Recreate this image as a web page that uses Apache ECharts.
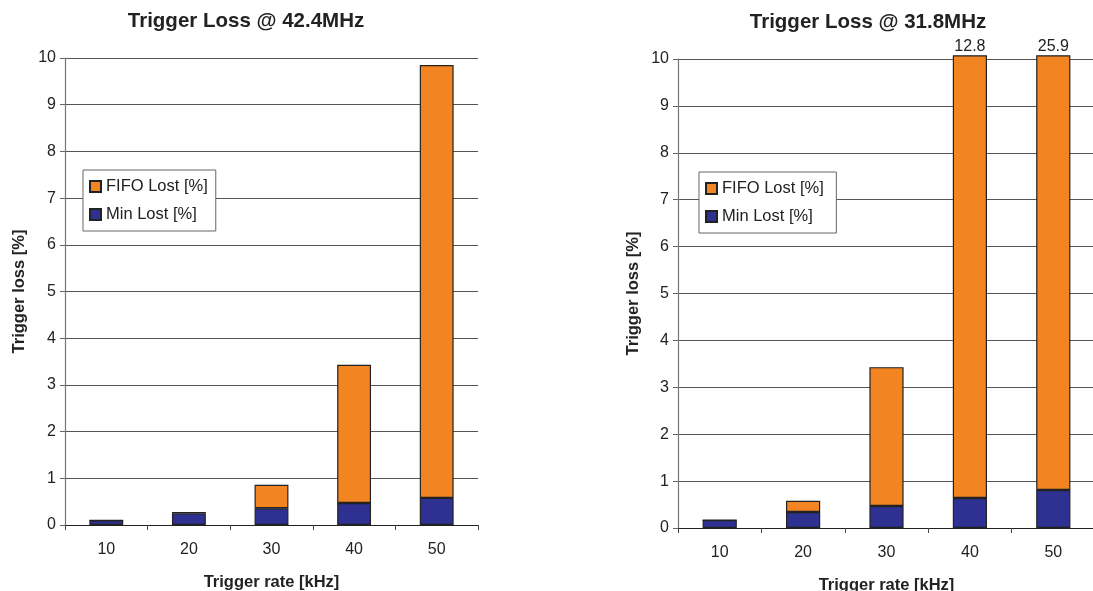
<!DOCTYPE html>
<html><head><meta charset="utf-8">
<script src="https://cdn.jsdelivr.net/npm/echarts@6/dist/echarts.min.js"></script>
<style>html,body{margin:0;padding:0;background:#fff}#c{width:1093px;height:591px}</style>
</head><body><div id="c"></div>
<script>
const categories = ['10', '20', '30', '40', '50'];
const minLost424 = [0.1, 0.25, 0.36, 0.47, 0.58];
const fifoLost424 = [0, 0.03, 0.5, 2.96, 9.27];
const minLost318 = [0.17, 0.34, 0.47, 0.64, 0.81];
const fifoLost318 = [0, 0.24, 2.96, 12.16, 25.09];
const totals318 = [0.17, 0.58, 3.43, 12.8, 25.9];
const titles = ['Trigger Loss @ 42.4MHz', 'Trigger Loss @ 31.8MHz'];
const yTicks = [0,1,2,3,4,5,6,7,8,9,10];

const AXMAX = 10;
const CAP = 10.08;
const FONT = 'Liberation Sans, Arial, sans-serif';
const ORANGE = '#F28522';
const BLUE = '#2E3192';

function capped(mins, fifos, totals) {
  return fifos.map((f, i) => {
    const t = totals ? totals[i] : mins[i] + f;
    const v = t > AXMAX ? CAP - mins[i] : f;
    return {
      value: v,
      label: { show: t > AXMAX, position: 'top', distance: 1, formatter: String(t),
               color: '#222', fontSize: 16, fontFamily: FONT }
    };
  });
}

const grids = [
  { left: 65, top: 58, width: 413, height: 467, outerBoundsMode: 'none', containLabel: false },
  { left: 678, top: 59, width: 417, height: 469, outerBoundsMode: 'none', containLabel: false }
];

const chart = echarts.init(document.getElementById('c'), null, { renderer: 'canvas' });
const xAxes = [], yAxes = [];
[0, 1].forEach(g => {
  xAxes.push({
    type: 'category', gridIndex: g, data: categories,
    name: 'Trigger rate [kHz]', nameLocation: 'middle', nameGap: 49,
    nameTextStyle: { fontFamily: FONT, fontSize: 16.5, fontWeight: 'bold', color: '#222' },
    axisLine: { lineStyle: { color: '#222', width: 1.2 } },
    axisTick: { show: true, length: 5, alignWithLabel: false, lineStyle: { color: '#444' } },
    axisLabel: { fontFamily: FONT, fontSize: 16, color: '#222', margin: 17 },
    splitLine: { show: false }
  });
  yAxes.push({
    type: 'value', gridIndex: g, min: 0, max: AXMAX, interval: 1,
    name: 'Trigger loss [%]', nameLocation: 'middle', nameGap: g === 0 ? 37 : 36, nameRotate: 90,
    nameTextStyle: { fontFamily: FONT, fontSize: 16.5, fontWeight: 'bold', color: '#222' },
    axisLine: { show: true, lineStyle: { color: '#777', width: 1.2 } },
    axisTick: { show: true, length: 5, lineStyle: { color: '#666' } },
    axisLabel: { fontFamily: FONT, fontSize: 16, color: '#222', margin: 9,
                 formatter: v => yTicks.includes(v) ? String(v) : '' },
    splitLine: { show: true, lineStyle: { color: '#555', width: 1 } }
  });
});

function barSeries(name, g, data, color, stack) {
  return {
    type: 'bar', name: name, xAxisIndex: g, yAxisIndex: g, stack: stack,
    data: data, barWidth: '41%', clip: false,
    itemStyle: { color: color, borderColor: '#222', borderWidth: 1.2 },
    emphasis: { disabled: true }, animation: false
  };
}

const legendBase = {
  orient: 'vertical', width: 133, itemWidth: 11, itemHeight: 11, itemGap: 11,
  padding: [8, 8, 8, 6], backgroundColor: '#fff', borderColor: '#666', borderWidth: 1,
  selectedMode: false, icon: 'rect',
  textStyle: { fontFamily: FONT, fontSize: 16.5, color: '#222' }
};

const option = {
  animation: false,
  title: [
    { text: titles[0], left: 241, top: 6, textAlign: 'center',
      textStyle: { fontFamily: FONT, fontSize: 20.5, fontWeight: 'bold', color: '#222' } },
    { text: titles[1], left: 863, top: 7, textAlign: 'center',
      textStyle: { fontFamily: FONT, fontSize: 20.5, fontWeight: 'bold', color: '#222' } }
  ],
  grid: grids,
  xAxis: xAxes,
  yAxis: yAxes,
  legend: [
    Object.assign({}, legendBase, { data: ['FIFO Lost [%]', 'Min Lost [%]'], left: 83, top: 170 }),
    Object.assign({}, legendBase, { data: ['FIFO Lost [%] ', 'Min Lost [%] '], left: 699, top: 172 })
  ],
  series: [
    barSeries('Min Lost [%]', 0, minLost424, BLUE, 'a'),
    barSeries('FIFO Lost [%]', 0, capped(minLost424, fifoLost424, null), ORANGE, 'a'),
    barSeries('Min Lost [%] ', 1, minLost318, BLUE, 'b'),
    barSeries('FIFO Lost [%] ', 1, capped(minLost318, fifoLost318, totals318), ORANGE, 'b')
  ]
};
chart.setOption(option);
</script></body></html>
